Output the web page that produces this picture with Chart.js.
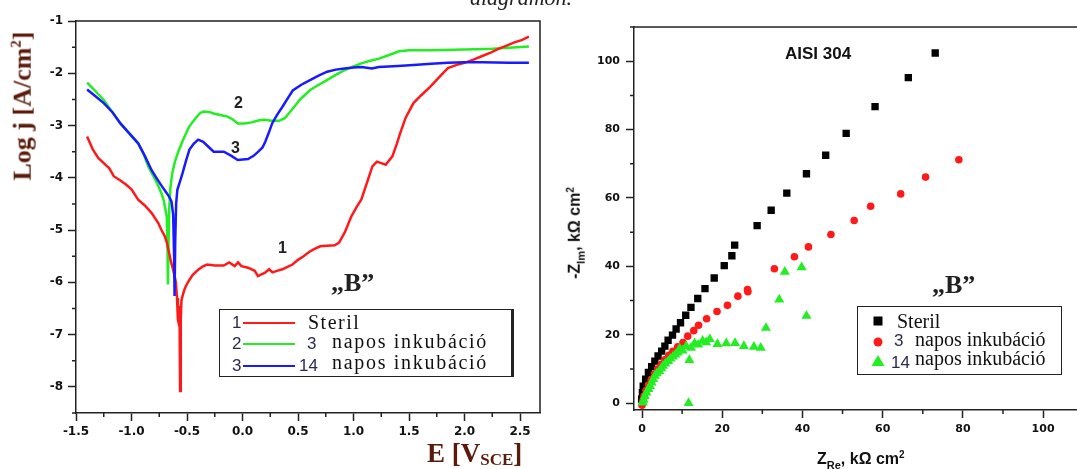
<!DOCTYPE html>
<html>
<head>
<meta charset="utf-8">
<script src="https://cdn.jsdelivr.net/npm/chart.js@4.4.0/dist/chart.umd.min.js"></script>
<style>
  html, body { margin: 0; padding: 0; background: #fff; }
  #page { position: relative; width: 1077px; height: 469px; overflow: hidden; background: #fff; }
  .wrap { position: absolute; top: 0; height: 469px; }
  .t { position: absolute; white-space: nowrap; line-height: 1; z-index: 5; }
  .serif { font-family: "Liberation Serif", "Times New Roman", serif; }
  .sans { font-family: "Liberation Sans", Arial, sans-serif; }
  .rot { transform: translate(-50%, -50%) rotate(-90deg); }
  .lbox { position: absolute; border: 1.5px solid #222; background: #fff; z-index: 4; }
  .key { position: absolute; height: 2px; width: 52px; z-index: 5; }
  .num { font-family: "Liberation Sans", Arial, sans-serif; font-size: 17px; color: #2b2b55; }
  .ltxt { font-family: "Liberation Serif", "Times New Roman", serif; font-size: 20px; color: #111; }
</style>
</head>
<body>
<div id="page">
  <div class="wrap" style="left:0;width:548px;"><canvas id="polChart"></canvas></div>
  <div class="wrap" style="left:548px;width:541px;"><canvas id="nyqChart"></canvas></div>

  <!-- cut-off caption line above the figure -->
  <div class="t serif" style="left:470px;top:-13px;font-size:22px;font-style:italic;color:#222;">diagramon.</div>

  <!-- left chart texts -->
  <div class="t serif rot" style="left:22px;top:106px;font-size:26px;font-weight:bold;color:#5b1a0a;">Log j [A/cm<sup style="font-size:15px;">2</sup>]</div>
  <div class="t serif" style="left:427px;top:440px;font-size:27px;font-weight:bold;color:#5b1a0a;">E [V<span style="font-size:17px;position:relative;top:3px;">SCE</span>]</div>
  <div class="t sans" style="left:234px;top:95px;font-size:16px;font-weight:bold;color:#222;">2</div>
  <div class="t sans" style="left:231px;top:140px;font-size:16px;font-weight:bold;color:#222;">3</div>
  <div class="t sans" style="left:278px;top:240px;font-size:16px;font-weight:bold;color:#222;">1</div>
  <div class="t serif" style="left:331px;top:270px;font-size:26px;font-weight:bold;color:#222;">„B”</div>

  <div class="lbox" style="left:219px;top:309px;width:291px;height:66px;border-right-width:3px;"></div>
  <div class="t num" style="left:232px;top:314px;">1</div>
  <div class="key" style="left:243px;top:322px;background:#ff1a1a;"></div>
  <div class="t ltxt" style="left:308px;top:312px;letter-spacing:1.5px;">Steril</div>
  <div class="t num" style="left:232px;top:335px;">2</div>
  <div class="key" style="left:243px;top:343px;background:#22ee22;"></div>
  <div class="t num" style="left:307px;top:335px;">3</div>
  <div class="t ltxt" style="left:332px;top:331px;letter-spacing:1.7px;">napos inkubáció</div>
  <div class="t num" style="left:232px;top:357px;">3</div>
  <div class="key" style="left:243px;top:365px;background:#1a1aff;"></div>
  <div class="t num" style="left:299px;top:357px;">14</div>
  <div class="t ltxt" style="left:332px;top:352px;letter-spacing:1.7px;">napos inkubáció</div>

  <!-- right chart texts -->
  <div class="t sans" style="left:785px;top:45px;font-size:17px;font-weight:bold;color:#111;">AISI 304</div>
  <div class="t sans rot" style="left:576px;top:233px;font-size:16px;font-weight:bold;color:#111;">-Z<sub style="font-size:11px;">Im</sub>, kΩ cm<sup style="font-size:10px;">2</sup></div>
  <div class="t sans" style="left:817px;top:450px;font-size:16px;font-weight:bold;color:#111;">Z<sub style="font-size:11px;">Re</sub>, kΩ cm<sup style="font-size:10px;">2</sup></div>
  <div class="t serif" style="left:932px;top:272px;font-size:26px;font-weight:bold;color:#222;">„B”</div>

  <div class="lbox" style="left:857px;top:306px;width:203px;height:67px;"></div>
  <svg class="t" style="left:868px;top:310px;" width="22" height="62">
    <rect x="5.5" y="6.5" width="9" height="9" fill="#000"/>
    <circle cx="10" cy="32" r="4.5" fill="#ff1a1a"/>
    <polygon points="10,45 16.5,56 3.5,56" fill="#22ee22"/>
  </svg>
  <div class="t ltxt" style="left:897px;top:311px;">Steril</div>
  <div class="t num" style="left:894px;top:332px;">3</div>
  <div class="t ltxt" style="left:915px;top:329px;">napos inkubáció</div>
  <div class="t num" style="left:891px;top:354px;">14</div>
  <div class="t ltxt" style="left:915px;top:348px;">napos inkubáció</div>
</div>

<script>
// ---- polarization curves (E in V vs SCE, log j in A/cm2) ----
const sterilE = [-1.40,-1.35,-1.30,-1.25,-1.20,-1.16,-1.10,-1.05,-1.00,-0.94,-0.88,-0.82,-0.76,-0.73,-0.70,-0.68,-0.66,-0.645,-0.63,-0.615,-0.60,-0.59,-0.582,-0.575,-0.568,-0.562,-0.556,-0.55,-0.54,-0.525,-0.51,-0.48,-0.45,-0.40,-0.36,-0.32,-0.25,-0.17,-0.12,-0.07,-0.04,-0.01,0.05,0.11,0.14,0.17,0.20,0.24,0.27,0.31,0.36,0.41,0.45,0.50,0.55,0.60,0.64,0.70,0.76,0.83,0.87,0.92,0.98,1.03,1.07,1.12,1.17,1.21,1.25,1.29,1.35,1.39,1.42,1.47,1.54,1.61,1.69,1.77,1.85,1.93,2.00,2.08,2.16,2.24,2.31,2.38,2.45,2.52,2.58];
const sterilLogJ = [-3.21,-3.45,-3.62,-3.72,-3.82,-3.97,-4.05,-4.13,-4.22,-4.42,-4.53,-4.67,-4.86,-5.0,-5.12,-5.25,-5.45,-5.6,-5.72,-5.85,-6.0,-6.3,-6.72,-6.78,-6.45,-8.08,-6.7,-6.35,-6.26,-6.15,-6.07,-5.96,-5.86,-5.76,-5.7,-5.66,-5.68,-5.68,-5.62,-5.69,-5.62,-5.69,-5.72,-5.78,-5.88,-5.85,-5.82,-5.75,-5.81,-5.78,-5.75,-5.7,-5.66,-5.57,-5.5,-5.42,-5.37,-5.31,-5.3,-5.29,-5.24,-5.05,-4.74,-4.55,-4.42,-4.1,-3.78,-3.69,-3.72,-3.75,-3.59,-3.35,-3.15,-2.85,-2.57,-2.42,-2.26,-2.08,-1.9,-1.84,-1.8,-1.74,-1.67,-1.6,-1.53,-1.47,-1.41,-1.36,-1.30];

const day3E = [-1.40,-1.33,-1.25,-1.18,-1.10,-1.02,-0.94,-0.89,-0.85,-0.80,-0.757,-0.73,-0.711,-0.695,-0.682,-0.676,-0.672,-0.667,-0.66,-0.65,-0.633,-0.61,-0.59,-0.571,-0.53,-0.48,-0.42,-0.38,-0.35,-0.30,-0.26,-0.20,-0.136,-0.09,-0.043,0.02,0.08,0.15,0.20,0.26,0.33,0.38,0.42,0.47,0.515,0.56,0.61,0.68,0.76,0.84,0.92,1.00,1.07,1.15,1.23,1.32,1.41,1.50,1.70,1.90,2.10,2.25,2.40,2.58];
const day3LogJ = [-2.18,-2.33,-2.51,-2.72,-2.96,-3.15,-3.34,-3.55,-3.78,-3.98,-4.16,-4.3,-4.42,-4.6,-4.75,-5.3,-6.04,-5.3,-4.6,-4.2,-3.91,-3.7,-3.57,-3.46,-3.25,-3.02,-2.85,-2.76,-2.73,-2.74,-2.77,-2.8,-2.83,-2.88,-2.96,-2.96,-2.94,-2.9,-2.89,-2.91,-2.91,-2.86,-2.76,-2.63,-2.51,-2.42,-2.32,-2.23,-2.13,-2.03,-1.94,-1.87,-1.81,-1.76,-1.72,-1.65,-1.58,-1.56,-1.56,-1.55,-1.54,-1.53,-1.51,-1.49];

const day14E = [-1.40,-1.33,-1.25,-1.17,-1.10,-1.02,-0.94,-0.88,-0.82,-0.77,-0.727,-0.69,-0.664,-0.64,-0.625,-0.616,-0.612,-0.606,-0.598,-0.587,-0.56,-0.54,-0.51,-0.478,-0.44,-0.40,-0.354,-0.30,-0.26,-0.168,-0.10,-0.043,0.05,0.10,0.142,0.18,0.205,0.24,0.267,0.31,0.36,0.41,0.453,0.53,0.608,0.69,0.763,0.84,0.918,1.00,1.073,1.166,1.228,1.40,1.54,1.70,1.85,2.00,2.16,2.40,2.58];
const day14LogJ = [-2.31,-2.43,-2.57,-2.75,-2.96,-3.15,-3.34,-3.58,-3.85,-4.02,-4.16,-4.27,-4.35,-4.45,-4.7,-5.5,-6.26,-5.2,-4.5,-4.23,-4.05,-3.91,-3.68,-3.46,-3.35,-3.27,-3.31,-3.42,-3.5,-3.5,-3.58,-3.66,-3.64,-3.58,-3.5,-3.42,-3.31,-3.12,-2.96,-2.8,-2.64,-2.47,-2.33,-2.22,-2.13,-2.04,-1.97,-1.93,-1.91,-1.89,-1.88,-1.91,-1.88,-1.86,-1.84,-1.82,-1.8,-1.79,-1.79,-1.8,-1.8];

// ---- Nyquist plot (kOhm cm2) ----
const sterilRe = [73.1,66.4,58.1,50.9,45.8,41.0,36.1,32.2,28.7,23.1,22.4,20.5,18.0,15.7,13.9,12.2,10.9,9.6,8.5,7.6,6.5,5.7,4.9,4.0,3.2,2.4,1.6,0.9,0.3,0.1,-0.1];
const sterilIm = [102.4,95.2,86.7,78.9,72.5,67.1,61.4,56.4,51.9,46.2,43.1,40.2,36.6,33.5,30.6,28.0,25.7,23.5,21.7,19.9,18.4,16.7,15.2,13.8,12.3,10.7,9.0,7.0,5.0,3.1,1.2];

const day3Re = [79.0,70.7,64.5,57.0,52.9,47.1,41.5,38.0,33.0,26.4,26.3,23.9,21.3,18.7,16.1,14.1,12.9,11.4,10.2,8.9,7.7,6.7,5.7,4.8,3.9,3.1,2.3,1.6,1.0,0.5,0.2,0.0];
const day3Im = [71.2,66.1,61.2,57.6,53.4,49.3,45.7,42.8,39.3,32.6,33.2,31.3,28.6,26.8,24.7,22.8,21.2,19.6,17.7,16.5,15.2,14.0,12.7,11.4,10.0,8.5,6.9,5.3,3.7,2.1,0.7,-0.6];

const day14Re = [39.8,35.6,34.2,41.0,30.9,29.6,27.9,25.4,23.2,21.0,18.8,16.9,15.1,13.1,11.8,11.6,11.0,9.4,8.9,7.7,6.5,5.2,4.3,3.2,2.4,1.6,0.7,0.2,12.2,14.0,16.0,10.1,8.3,7.1,5.8,4.8,3.7,2.8,2.0,1.1,0.4];
const day14Im = [39.7,38.4,30.3,25.5,22.0,16.2,16.5,16.7,17.6,17.5,17.3,18.7,18.2,17.5,12.6,0.0,16.7,16.0,14.8,13.6,12.3,10.9,9.4,8.0,6.0,4.1,2.1,0.2,16.2,17.1,17.8,15.4,14.2,13.0,11.6,10.2,8.7,7.0,5.0,3.1,1.0];

const pairs = (xs, ys) => xs.map((x, i) => ({ x, y: ys[i] }));

Chart.defaults.animation = false;
Chart.defaults.events = [];
Chart.defaults.color = '#111';
Chart.defaults.font.family = '"DejaVu Sans", "Liberation Sans", sans-serif';
Chart.defaults.font.weight = 'bold';
Chart.defaults.plugins.legend.display = false;
Chart.defaults.plugins.tooltip.enabled = false;

// top/right frame lines and short minor ticks between the labelled ones
const axisExtras = {
  id: 'axisExtras',
  afterDraw(chart, args, o) {
    const { ctx, chartArea: a, scales: { x, y } } = chart;
    ctx.save();
    ctx.strokeStyle = '#222';
    ctx.lineWidth = 1.5;
    ctx.beginPath();
    ctx.moveTo(a.left, a.top);
    ctx.lineTo(a.right, a.top);
    if (o.rightBorder) ctx.lineTo(a.right, a.bottom);
    ctx.stroke();

    const isMajor = (v, step) => Math.abs(v / step - Math.round(v / step)) < 1e-6;
    ctx.beginPath();
    for (let i = Math.ceil(x.min / o.xMinor); i * o.xMinor <= x.max + 1e-9; i++) {
      const v = i * o.xMinor;
      if (isMajor(v, o.xMajor)) continue;
      const px = x.getPixelForValue(v);
      ctx.moveTo(px, a.bottom);
      ctx.lineTo(px, a.bottom + o.minorLen);
    }
    for (let i = Math.ceil(y.min / o.yMinor); i * o.yMinor <= y.max + 1e-9; i++) {
      const v = i * o.yMinor;
      if (isMajor(v, o.yMajor)) continue;
      const py = y.getPixelForValue(v);
      ctx.moveTo(a.left, py);
      ctx.lineTo(a.left - o.minorLen, py);
    }
    ctx.stroke();
    ctx.restore();
  }
};

const axisGrid = { drawOnChartArea: false, drawTicks: true, tickLength: 8, tickWidth: 1.5, tickColor: '#222' };
const axisBorder = { color: '#222', width: 1.5 };

new Chart(document.getElementById('polChart'), {
  type: 'scatter',
  data: {
    datasets: [
      { label: 'Steril', data: pairs(sterilE, sterilLogJ), borderColor: '#ff1a1a', order: 1 },
      { label: '3 napos inkubáció', data: pairs(day3E, day3LogJ), borderColor: '#22ee22', order: 2 },
      { label: '14 napos inkubáció', data: pairs(day14E, day14LogJ), borderColor: '#1a1aff', order: 0 }
    ].map(d => ({ ...d, showLine: true, pointRadius: 0, borderWidth: 2.5, tension: 0 }))
  },
  options: {
    responsive: true,
    maintainAspectRatio: false,
    layout: { padding: { top: 21, right: 8, left: 0, bottom: 0 } },
    scales: {
      x: {
        type: 'linear', min: -1.5, max: 2.68,
        afterFit: s => { s.height = 56; },
        border: axisBorder, grid: axisGrid,
        ticks: {
          stepSize: 0.5, includeBounds: false, padding: 4, maxRotation: 0, autoSkip: false,
          font: { size: 12, weight: 'bold' },
          callback: v => (Math.abs(v) < 1e-9 ? 0 : v).toFixed(1)
        }
      },
      y: {
        type: 'linear', min: -8.5, max: -1,
        afterFit: s => { s.width = 76; },
        border: axisBorder, grid: axisGrid,
        ticks: { stepSize: 1, includeBounds: false, padding: 5, font: { size: 12, weight: 'bold' } }
      }
    },
    plugins: { axisExtras: { rightBorder: true, xMinor: 0.25, xMajor: 0.5, yMinor: 0.5, yMajor: 1, minorLen: 4 } }
  },
  plugins: [axisExtras]
});

new Chart(document.getElementById('nyqChart'), {
  type: 'scatter',
  data: {
    datasets: [
      { label: 'Steril', data: pairs(sterilRe, sterilIm), pointStyle: 'rect', pointRadius: 5.2,
        backgroundColor: '#000', borderColor: '#000', order: 2 },
      { label: '3 napos inkubáció', data: pairs(day3Re, day3Im), pointStyle: 'circle', pointRadius: 3.8,
        backgroundColor: '#ff1a1a', borderColor: '#ff1a1a', order: 1 },
      { label: '14 napos inkubáció', data: pairs(day14Re, day14Im), pointStyle: 'triangle', pointRadius: 5.8,
        backgroundColor: '#22ee22', borderColor: '#22ee22', order: 0 }
    ].map(d => ({ ...d, borderWidth: 0 }))
  },
  options: {
    responsive: true,
    maintainAspectRatio: false,
    layout: { padding: { top: 27, right: 0, left: 0, bottom: 0 } },
    scales: {
      x: {
        type: 'linear', min: -2, max: 110,
        afterFit: s => { s.height = 59; },
        border: axisBorder, grid: axisGrid,
        ticks: { stepSize: 20, includeBounds: false, padding: 5, maxRotation: 0, autoSkip: false, font: { size: 11, weight: 'bold' } }
      },
      y: {
        type: 'linear', min: -2, max: 110,
        afterFit: s => { s.width = 86; },
        border: axisBorder, grid: axisGrid,
        ticks: { stepSize: 20, includeBounds: false, padding: 6, font: { size: 11, weight: 'bold' } }
      }
    },
    plugins: { axisExtras: { rightBorder: false, xMinor: 10, xMajor: 20, yMinor: 10, yMajor: 20, minorLen: 4 } }
  },
  plugins: [axisExtras]
});
</script>
</body>
</html>
